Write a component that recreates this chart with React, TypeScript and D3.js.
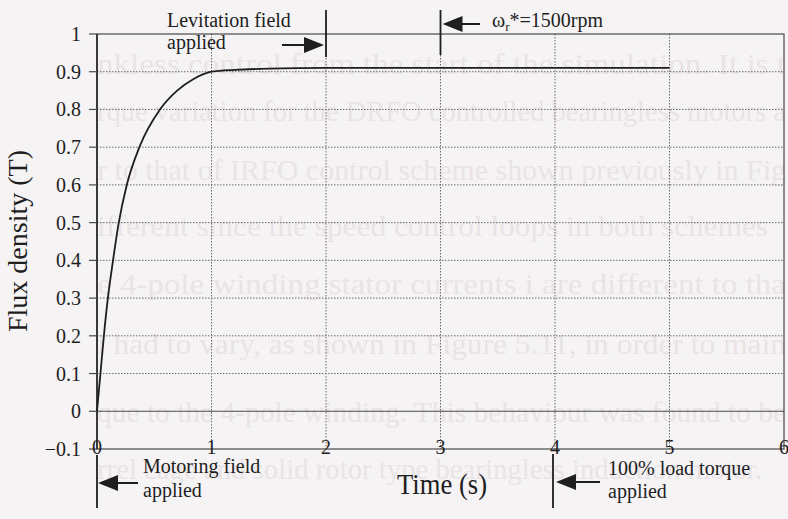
import React from 'react';
import * as d3 from 'd3';

// Flux density build-up: motoring field at t=0, levitation at 2 s,
// speed ref at 3 s, load torque at 4 s.

const timeS = [0, 0.03, 0.06, 0.095, 0.14, 0.19, 0.26, 0.37, 0.55, 0.7, 0.84, 1.0, 1.2, 1.5, 2, 3, 4, 5];
const fluxT = [0, 0.1, 0.2, 0.3, 0.4, 0.5, 0.6, 0.7, 0.8, 0.85, 0.88, 0.9, 0.905, 0.908, 0.91, 0.91, 0.91, 0.91];

const xTicks = [0, 1, 2, 3, 4, 5, 6];
const yTicks = [-0.1, 0, 0.1, 0.2, 0.3, 0.4, 0.5, 0.6, 0.7, 0.8, 0.9, 1];

// faint text showing through from the reverse side of the scanned page
const bleedLines = [
  'nkless control from the start of the simulation. It is t',
  'rque variation for the DRFO controlled bearingless motors a',
  'r to that of IRFO control scheme shown previously in Fig',
  'ifferent since the speed control loops in both schemes',
  'e 4-pole winding stator currents i   are different to tha',
  'i    had to vary, as shown in Figure 5.11, in order to main',
  'que to the 4-pole winding. This behaviour was found to be',
  'rrel cage and solid rotor type bearingless induction motor.',
];
const bleedBase = [74, 121, 180, 236, 294, 354, 422, 479];
const bleedEnd = [786, 786, 786, 768, 786, 786, 786, 762];

const W = 788;
const H = 519;
const FONT = '"Liberation Serif", "Times New Roman", serif';

export default function App() {
  const x = d3.scaleLinear().domain([0, 6]).range([97, 784]);
  const y = d3.scaleLinear().domain([-0.1, 1]).range([449, 34]);

  const line = d3
    .line<number>()
    .x((_, i) => x(timeS[i]))
    .y((v) => y(v))
    .curve(d3.curveMonotoneX);

  const ink = '#1e1e1e';
  const frame = '#4a4a4a';
  const grid = '#6a6a6a';

  const arrowRight = (xTip: number, yc: number, tail: number) => (
    <g>
      <line x1={tail} x2={xTip - 18} y1={yc} y2={yc} stroke={ink} strokeWidth={2} />
      <path d={`M${xTip},${yc} L${xTip - 20},${yc - 8} L${xTip - 20},${yc + 8} Z`} fill={ink} />
    </g>
  );
  const arrowLeft = (xTip: number, yc: number, tail: number) => (
    <g>
      <line x1={xTip + 18} x2={tail} y1={yc} y2={yc} stroke={ink} strokeWidth={2} />
      <path d={`M${xTip},${yc} L${xTip + 20},${yc - 8} L${xTip + 20},${yc + 8} Z`} fill={ink} />
    </g>
  );

  return (
    <>
      <style>{'body{margin:0}'}</style>
      <svg width={W} height={H} style={{ display: 'block', fontFamily: FONT }}>
        <rect width={W} height={H} fill="#f6f3f5" />

        <g fill="#e8e4e6" fontSize={30} fontFamily={FONT}>
          {bleedLines.map((t, i) => (
            <text
              key={i}
              x={97}
              y={bleedBase[i]}
              textLength={bleedEnd[i] - 97}
              lengthAdjust="spacingAndGlyphs"
            >
              {t}
            </text>
          ))}
        </g>

        {/* grid */}
        <g stroke={grid} strokeWidth={1} strokeDasharray="1.5 1.5">
          {yTicks
            .filter((v) => v > 0 && v < 1)
            .map((v) => (
              <line key={v} x1={x(0)} x2={x(6)} y1={y(v)} y2={y(v)} />
            ))}
          {xTicks
            .filter((v) => v > 0 && v < 6)
            .map((v) => (
              <line key={v} x1={x(v)} x2={x(v)} y1={y(1)} y2={y(-0.1)} />
            ))}
        </g>

        {/* frame and zero line */}
        <g stroke={frame} strokeWidth={1.2} fill="none">
          <rect x={x(0)} y={y(1)} width={x(6) - x(0)} height={y(-0.1) - y(1)} />
          <line x1={x(0)} x2={x(6)} y1={y(0)} y2={y(0)} />
          <line x1={x(0)} x2={x(0)} y1={y(1)} y2={y(-0.1)} stroke={ink} strokeWidth={1.5} />
          {yTicks.map((v) => (
            <line key={v} x1={x(0) - 8} x2={x(0)} y1={y(v)} y2={y(v)} />
          ))}
        </g>

        {/* flux curve */}
        <path d={line(fluxT) ?? ''} fill="none" stroke={ink} strokeWidth={1.8} />

        {/* tick labels */}
        <g fill={ink} fontSize={20} fontFamily={FONT}>
          {yTicks.map((v) => (
            <text key={v} x={81} y={y(v) + 7} textAnchor="end">
              {d3.format('~g')(v)}
            </text>
          ))}
          {xTicks.map((v) => (
            <text key={v} x={x(v)} y={y(-0.1) + 5} textAnchor="middle">
              {v}
            </text>
          ))}
        </g>

        {/* axis titles */}
        <text
          x={442}
          y={494}
          fontSize={30}
          fontFamily={FONT}
          textLength={90}
          lengthAdjust="spacingAndGlyphs"
          textAnchor="middle"
          fill={ink}
        >
          Time (s)
        </text>
        <text
          transform="translate(27,241) rotate(-90)"
          fontSize={28}
          fontFamily={FONT}
          textLength={182}
          lengthAdjust="spacingAndGlyphs"
          textAnchor="middle"
          fill={ink}
        >
          Flux density (T)
        </text>

        {/* event markers */}
        <g stroke={ink} strokeWidth={1.8}>
          <line x1={x(2)} x2={x(2)} y1={10} y2={57} />
          <line x1={x(3)} x2={x(3)} y1={10} y2={55} />
          <line x1={x(0)} x2={x(0)} y1={455} y2={508} />
          <line x1={x(4) - 2} x2={x(4) - 2} y1={454} y2={508} />
        </g>
        {arrowRight(x(2) - 2, 45, 282)}
        {arrowLeft(x(3) + 2, 24, 480)}
        {arrowLeft(x(0) + 1, 483, 138)}
        {arrowLeft(x(4) + 1, 482, 600)}

        <g fill={ink} fontSize={20} fontFamily={FONT}>
          <text x={167} y={27}>Levitation field</text>
          <text x={167} y={49}>applied</text>
          <text x={492} y={27}>
            ω<tspan fontSize={13} dy={4}>r</tspan>
            <tspan dy={-4}>*=1500rpm</tspan>
          </text>
          <text x={143} y={473}>Motoring field</text>
          <text x={143} y={497}>applied</text>
          <text x={608} y={475}>100% load torque</text>
          <text x={608} y={498}>applied</text>
        </g>
      </svg>
    </>
  );
}
